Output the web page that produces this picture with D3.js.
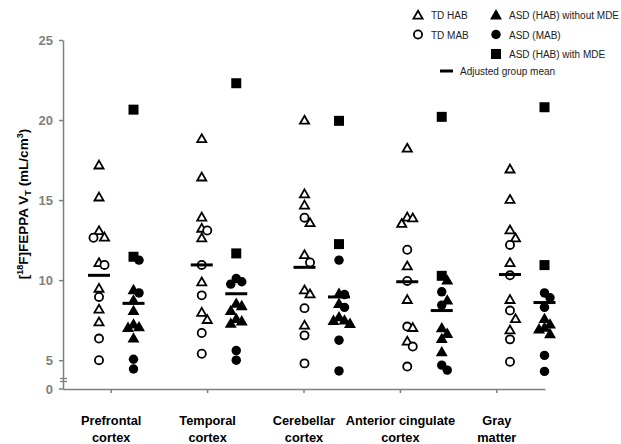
<!DOCTYPE html>
<html>
<head>
<meta charset="utf-8">
<script src="https://cdn.jsdelivr.net/npm/d3@7"></script>
<style>
  body { margin: 0; background: #fff; }
  text { font-family: "Liberation Sans", Arial, sans-serif; }
</style>
</head>
<body>
<div id="chart-area"></div>
<script>
// FEPPA VT dot plot, TD vs ASD per region

const regions = ["Prefrontal cortex", "Temporal cortex", "Cerebellar cortex", "Anterior cingulate cortex", "Gray matter"]
const regionLines = [["Prefrontal", "cortex"], ["Temporal", "cortex"], ["Cerebellar", "cortex"], ["Anterior cingulate", "cortex"], ["Gray", "matter"]]

// TD controls
const tdHab = [
  [17.2, 15.2, 13.1, 12.7, 11.1, 9.5, 8.2, 7.4],
  [18.85, 16.45, 13.95, 13.25, 12.65, 9.9, 8.0, 7.55],
  [20.0, 15.4, 14.7, 13.6, 11.6, 9.4, 9.15, 7.2],
  [18.25, 13.95, 13.9, 13.55, 10.9, 8.8, 7.05, 6.2],
  [16.95, 15.05, 13.15, 12.65, 11.1, 8.8, 7.6, 6.9]
]
const tdMab = [
  [12.65, 10.95, 8.95, 6.35, 5.0],
  [13.1, 10.95, 9.05, 6.7, 5.4],
  [13.9, 11.1, 8.25, 6.55, 4.8],
  [11.9, 9.95, 7.1, 5.85, 4.6],
  [12.2, 10.3, 8.1, 6.3, 4.9]
]

// ASD participants
const asdHab = [
  [9.4, 8.75, 8.1, 7.25, 7.08, 7.04, 6.38],
  [8.55, 8.4, 8.1, 7.6, 7.45, 7.3],
  [9.17, 8.54, 7.71, 7.5, 7.48, 7.29],
  [10.0, 8.75, 7.02, 6.67, 6.35, 5.52],
  [7.6, 7.25, 7.05, 6.95, 6.65]
]
const asdMab = [
  [11.25, 9.2, 5.06, 4.45],
  [10.1, 9.9, 9.75, 5.6, 5.0],
  [11.25, 9.1, 8.3, 6.25, 4.33],
  [9.27, 8.44, 4.69, 4.38],
  [9.2, 8.9, 8.3, 5.3, 4.3]
]
const asdMde = [
  [20.65, 11.46],
  [22.3, 11.67],
  [19.95, 12.25],
  [20.2, 10.27],
  [20.8, 10.94]
]

// adjusted group means
const tdMean = [10.3, 10.95, 10.8, 9.9, 10.35]
const asdMean = [8.55, 9.15, 8.95, 8.1, 8.6]

const yTicks = [5, 10, 15, 20, 25]

const legendItems = [
  { key: "tdHab", label: "TD HAB", col: 0, row: 0 },
  { key: "asdHab", label: "ASD (HAB) without MDE", col: 1, row: 0 },
  { key: "tdMab", label: "TD MAB", col: 0, row: 1 },
  { key: "asdMab", label: "ASD (MAB)", col: 1, row: 1 },
  { key: "asdMde", label: "ASD (HAB) with MDE", col: 1, row: 2 }
]

const W = 621, H = 444

const svg = d3.select("#chart-area").append("svg")
    .attr("width", W)
    .attr("height", H)

const y = d3.scaleLinear().domain([3.2, 25]).range([389, 40])
const x = d3.scaleBand().domain(regions).range([63, 545])
// dot clusters are not centred on the ticks in the original
const cluster = d3.scaleLinear().domain([0, regions.length - 1]).range([99, 510])
const group = d3.scalePoint().domain(["TD", "ASD"]).range([0, 34.5])

const AXIS = "#7f7f7f"

// y axis
const yAxis = svg.append("g")
    .attr("transform", "translate(63,0)")
    .call(d3.axisLeft(y).tickValues(yTicks).tickSize(4).tickPadding(6).tickSizeOuter(0))
yAxis.select(".domain").attr("stroke", AXIS).attr("stroke-width", 1.5)
yAxis.selectAll(".tick line").attr("stroke", AXIS).attr("stroke-width", 1.5)
yAxis.selectAll(".tick text")
    .attr("fill", AXIS)
    .attr("font-size", "13px")
    .attr("font-weight", "bold")
    .attr("font-family", "Liberation Sans, Arial, sans-serif")

// zero label and axis break
svg.append("text")
    .attr("x", 53).attr("y", y(y.domain()[0]) + 4.5)
    .attr("text-anchor", "end")
    .attr("fill", AXIS).attr("font-size", "13px").attr("font-weight", "bold")
    .text("0")
svg.append("line").attr("x1", 59).attr("x2", 63).attr("y1", y(y.domain()[0])).attr("y2", y(y.domain()[0]))
    .attr("stroke", AXIS).attr("stroke-width", 1.5)
;[378.5, 381.5].forEach(v => {
  svg.append("line").attr("x1", 60).attr("x2", 67).attr("y1", v).attr("y2", v)
    .attr("stroke", AXIS).attr("stroke-width", 1.3)
})

// x axis
const xAxis = svg.append("g")
    .attr("transform", `translate(0,${y(y.domain()[0])})`)
    .call(d3.axisBottom(x).tickSize(4).tickSizeOuter(0).tickFormat(""))
xAxis.select(".domain").attr("stroke", AXIS).attr("stroke-width", 1.5)
xAxis.selectAll(".tick line").attr("stroke", AXIS).attr("stroke-width", 1.5)

// category labels
regions.forEach((r, i) => {
  const t = svg.append("text")
      .attr("x", x(r) + x.bandwidth() / 2)
      .attr("y", 425)
      .attr("text-anchor", "middle")
      .attr("font-size", "12.8px")
      .attr("font-weight", "bold")
  regionLines[i].forEach((line, j) => {
    t.append("tspan").attr("x", x(r) + x.bandwidth() / 2).attr("dy", j === 0 ? 0 : 17).text(line)
  })
})

// y title
const yt = svg.append("text")
    .attr("transform", "translate(28,204) rotate(-90)")
    .attr("text-anchor", "middle")
    .attr("font-size", "13.5px")
    .attr("font-weight", "bold")
yt.append("tspan").text("[")
yt.append("tspan").attr("font-size", "9px").attr("dy", -5).text("18")
yt.append("tspan").attr("dy", 5).text("F]FEPPA V")
yt.append("tspan").attr("font-size", "9px").attr("dy", 3).text("T")
yt.append("tspan").attr("dy", -3).text(" (mL/cm")
yt.append("tspan").attr("font-size", "9px").attr("dy", -5).text("3")
yt.append("tspan").attr("dy", 5).text(")")

// marker styles
const markers = {
  tdHab:  { type: d3.symbolTriangle, size: 36, fill: "#fff", stroke: "#000" },
  tdMab:  { type: d3.symbolCircle,   size: 52, fill: "#fff", stroke: "#000" },
  asdHab: { type: d3.symbolTriangle, size: 62, fill: "#000", stroke: "none" },
  asdMab: { type: d3.symbolCircle,   size: 70, fill: "#000", stroke: "none" },
  asdMde: { type: d3.symbolSquare,   size: 100, fill: "#000", stroke: "none" }
}

function drawMarker(sel, key) {
  const m = markers[key]
  sel.attr("d", d3.symbol().type(m.type).size(m.size)())
     .attr("fill", m.fill)
     .attr("stroke", m.stroke)
     .attr("stroke-width", 1.8)
}

// simple dodge so overlapping dots step sideways
const STEP = 5.5
function dodge(points) {
  const placed = []
  const order = [0, 1, -1, 2, -2, 3, -3]
  points.sort((a, b) => b.v - a.v).forEach(p => {
    const py = y(p.v)
    for (const k of order) {
      const hit = placed.some(q => q.slot === k && Math.abs(q.py - py) < 8.5)
      if (!hit) { p.slot = k; p.py = py; break }
    }
    placed.push(p)
  })
  return placed
}

const dots = []
regions.forEach((r, i) => {
  const td = tdHab[i].map(v => ({ v, key: "tdHab" }))
    .concat(tdMab[i].map(v => ({ v, key: "tdMab" })))
  const asd = asdHab[i].map(v => ({ v, key: "asdHab" }))
    .concat(asdMab[i].map(v => ({ v, key: "asdMab" })))
    .concat(asdMde[i].map(v => ({ v, key: "asdMde" })))
  dodge(td).forEach(p => dots.push({ ...p, cx: cluster(i) + group("TD") }))
  dodge(asd).forEach(p => dots.push({ ...p, cx: cluster(i) + group("ASD") }))
})

svg.append("g").selectAll("path")
  .data(dots)
  .enter().append("path")
    .attr("transform", d => `translate(${d.cx + d.slot * STEP},${y(d.v) + (d.key.endsWith("Hab") ? 1 : 0)})`)
    .each(function(d) { drawMarker(d3.select(this), d.key) })

// mean bars
const means = []
regions.forEach((r, i) => {
  means.push({ cx: cluster(i) + group("TD"), v: tdMean[i] })
  means.push({ cx: cluster(i) + group("ASD"), v: asdMean[i] })
})
svg.append("g").selectAll("line")
  .data(means)
  .enter().append("line")
    .attr("x1", d => d.cx - 11)
    .attr("x2", d => d.cx + 11)
    .attr("y1", d => y(d.v))
    .attr("y2", d => y(d.v))
    .attr("stroke", "#000")
    .attr("stroke-width", 3)

// legend
const legend = svg.append("g").attr("transform", "translate(418,15)")
const lg = legend.selectAll("g")
  .data(legendItems)
  .enter().append("g")
    .attr("transform", d => `translate(${d.col * 78},${d.row * 19.5})`)
lg.append("path")
    .attr("transform", d => `translate(0,${d.key.endsWith("Hab") ? 1 : 0})`)
    .each(function(d) { drawMarker(d3.select(this), d.key) })
lg.append("text")
    .attr("x", 13)
    .attr("y", 4)
    .attr("font-size", "10px")
    .attr("fill", "#222")
    .text(d => d.label)

legend.append("line")
    .attr("x1", 22).attr("x2", 35).attr("y1", 56).attr("y2", 56)
    .attr("stroke", "#000").attr("stroke-width", 3)
legend.append("text")
    .attr("x", 42).attr("y", 60)
    .attr("font-size", "10px")
    .attr("fill", "#222")
    .text("Adjusted group mean")
</script>
</body>
</html>
